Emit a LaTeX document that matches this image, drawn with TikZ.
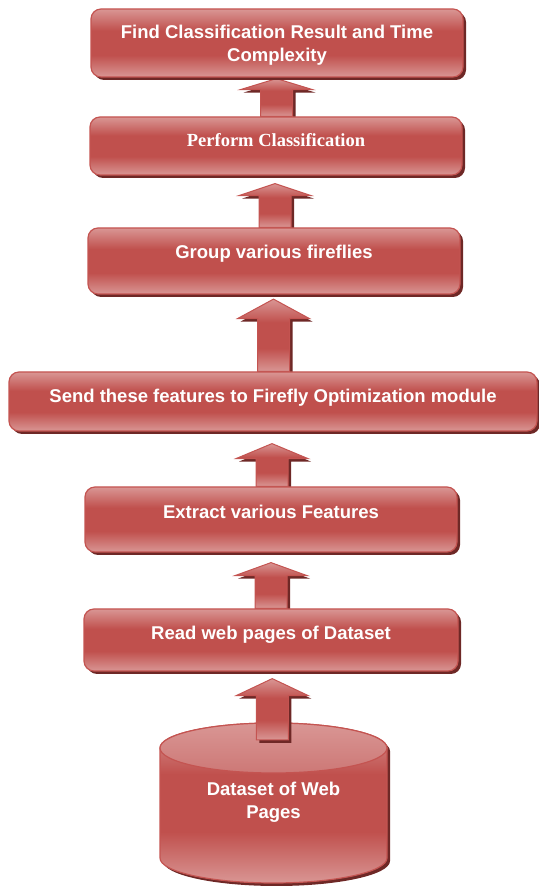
\documentclass[tikz,border=0pt]{standalone}
\usepackage{fontspec}
\setmainfont{Liberation Sans}
\newfontfamily\serifb{Liberation Serif}
\usetikzlibrary{calc,shadows,backgrounds}
\definecolor{lightc}{RGB}{217,150,148}
\definecolor{midc}{RGB}{192,80,77}
\definecolor{edgec}{RGB}{196,84,81}
\definecolor{shadc}{RGB}{110,40,38}
\definecolor{ellc}{RGB}{205,120,118}
\pgfdeclareverticalshading{boxshade}{100bp}{color(0bp)=(lightc); color(25bp)=(lightc); color(41bp)=(midc); color(59bp)=(midc); color(75bp)=(lightc); color(100bp)=(lightc)}
\tikzset{
  shad/.style={drop shadow={shadow xshift=3pt,shadow yshift=-3pt,opacity=1,fill=shadc}},
  boxst/.style={shad, draw=edgec, line width=1.2pt, rounded corners=10pt, shading=boxshade, inner sep=0pt},
  arrst/.style={shad, draw=edgec, line width=1pt, shading=boxshade},
  txt/.style={text=white, font=\fontsize{18.5}{23}\selectfont\bfseries, align=center, inner sep=0pt},
}
% #1 lower node, #2 upper node, #3 gap below upper node, #4 head height, #5 depth into lower node
\newcommand\blkarrow[5]{%
  \path[arrst] let \p1=(#1.north), \p2=(#2.south), \n1={(\x1+\x2)/2} in
    (\n1-16,\y1-#5) -- (\n1-16,\y2-#3-#4) -- (\n1-36,\y2-#3-#4) -- (\n1,\y2-#3)
    -- (\n1+36,\y2-#3-#4) -- (\n1+16,\y2-#3-#4) -- (\n1+16,\y1-#5) -- cycle;}
\begin{document}
\begin{tikzpicture}[x=1pt,y=1pt]
\useasboundingbox (0,0) rectangle (538,888);
% boxes
\node[boxst, minimum width=372, minimum height=68] (b1) at (277,845) {};
\node[boxst, minimum width=372, minimum height=58] (b2) at (276,742) {};
\node[boxst, minimum width=372, minimum height=66] (b3) at (274,627) {};
\node[boxst, minimum width=528, minimum height=59] (b4) at (273,486.5) {};
\node[boxst, minimum width=372, minimum height=65] (b5) at (271,368.5) {};
\node[boxst, minimum width=374, minimum height=62] (b6) at (271,248) {};
% texts
\node[txt] (t1) at ([yshift=-2.7]b1.center) {Find Classification Result and Time\\Complexity};
\node[txt, anchor=base, font=\fontsize{18.5}{23}\selectfont\serifb\bfseries] (t2) at ([yshift=-1]b2.center) {Perform Classification};
\node[txt, anchor=base] (t3) at ([yshift=2]b3.center) {Group various fireflies};
\node[txt, anchor=base] (t4) at ([yshift=-1.5]b4.center) {Send these features to Firefly Optimization module};
\node[txt, anchor=base] (t5) at ([yshift=0.5]b5.center) {Extract various Features};
\node[txt, anchor=base] (t6) at (b6.center) {Read web pages of Dataset};
% arrows between boxes (behind boxes)
\begin{pgfonlayer}{background}
\blkarrow{b2}{b1}{1}{11}{0}
\blkarrow{b3}{b2}{8}{12}{0}
\blkarrow{b4}{b3}{4.5}{19.5}{0}
\blkarrow{b5}{b4}{12}{15}{0}
\blkarrow{b6}{b5}{10}{13}{0}
\end{pgfonlayer}
% cylinder
\node[minimum width=227, minimum height=160, inner sep=0pt] (cyl) at (273.5,85) {};
\path[shad, draw=edgec, line width=1.2pt, shading=boxshade]
  (160,140) -- (160,30) arc[start angle=180,end angle=360,x radius=113.5,y radius=25]
  -- (387,140) arc[start angle=0,end angle=180,x radius=113.5,y radius=25] -- cycle;
\path[draw=edgec, line width=1.2pt, top color=lightc, bottom color=ellc]
  (273.5,140) ellipse[x radius=113.5,y radius=25];
\node[txt] (t7) at ([yshift=0.8]cyl.center) {Dataset of Web\\Pages};
\blkarrow{cyl}{b6}{7}{17}{17}
\end{tikzpicture}
\end{document}
